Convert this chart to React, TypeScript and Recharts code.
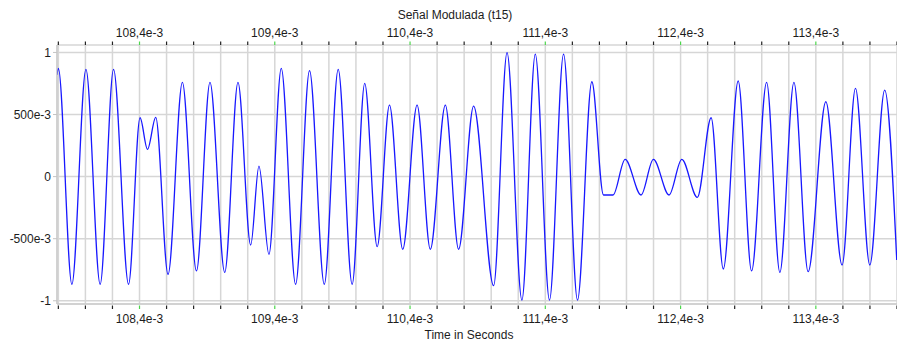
import React from 'react';
import { LineChart, Line, XAxis, YAxis, CartesianGrid } from 'recharts';

// Sample times in ms (ticks print them as e-3 seconds) and signal level at each
// crest / trough of the carrier.
const timeMs = [
  107.79, 107.8, 107.9, 108.004, 108.109, 108.208, 108.319, 108.404, 108.459, 108.52,
  108.611, 108.717, 108.821, 108.921, 109.03, 109.128, 109.222, 109.283, 109.357, 109.448,
  109.554, 109.657, 109.766, 109.869, 109.972, 110.065, 110.157, 110.248, 110.346, 110.452,
  110.55, 110.661, 110.759, 110.87, 111.018, 111.117, 111.227, 111.326, 111.431, 111.535,
  111.638, 111.744, 111.83, 111.901, 111.99, 112.108, 112.199, 112.315, 112.409, 112.524,
  112.626, 112.716, 112.826, 112.925, 113.036, 113.134, 113.238, 113.343, 113.474, 113.594,
  113.693, 113.799, 113.909, 113.998,
];
const amplitude = [
  0.82, 0.872, -0.867, 0.864, -0.867, 0.864, -0.867, 0.474, 0.22, 0.477,
  -0.787, 0.759, -0.76, 0.759, -0.771, 0.759, -0.551, 0.085, -0.626, 0.872,
  -0.867, 0.853, -0.867, 0.864, -0.867, 0.751, -0.564, 0.576, -0.585, 0.576,
  -0.585, 0.576, -0.585, 0.568, -0.878, 0.998, -0.994, 0.987, -0.994, 0.987,
  -0.994, 0.764, -0.148, -0.148, 0.139, -0.148, 0.139, -0.148, 0.139, -0.167,
  0.474, -0.744, 0.77, -0.76, 0.759, -0.771, 0.759, -0.766, 0.603, -0.712,
  0.711, -0.712, 0.697, -0.671,
];

const gridTicks = [
  107.8, 108.0, 108.2, 108.4, 108.6, 108.8, 109.0, 109.2, 109.4, 109.6, 109.8,
  110.0, 110.2, 110.4, 110.6, 110.8, 111.0, 111.2, 111.4, 111.6, 111.8, 112.0,
  112.2, 112.4, 112.6, 112.8, 113.0, 113.2, 113.4, 113.6, 113.8, 114.0,
];
const labelTicks = [108.4, 109.4, 110.4, 111.4, 112.4, 113.4];
const levelTicks = [-1, -0.5, 0, 0.5, 1];

const data = timeMs.map((t, i) => ({ t, v: amplitude[i] }));

const textColor = '#1c1c1c';
const gridColor = '#d6d6d6';
const font = '"Liberation Sans", Arial, sans-serif';

const isLabelled = (v: number) => labelTicks.some((m) => Math.abs(m - v) < 1e-6);
const fmtTime = (v: number) => v.toFixed(1).replace('.', ',') + 'e-3';
const fmtLevel = (v: number) =>
  v === 0 ? '0' : Math.abs(v) === 1 ? String(v) : Math.round(v * 1000) + 'e-3';

const TimeTick = (props: any) => {
  const { x, y, payload, side } = props;
  const major = isLabelled(payload.value);
  const top = side === 'top';
  return (
    <g>
      <line
        x1={x}
        x2={x}
        y1={top ? y - 3.5 : y + 1.5}
        y2={top ? y : y + 5}
        stroke={major ? '#4cd64c' : '#222'}
        strokeWidth={1.2}
      />
      {major && (
        <text
          x={x}
          y={top ? y - 11.7 : y + 15}
          textAnchor="middle"
          dominantBaseline="central"
          fontSize={12}
          fontFamily={font}
          fill={textColor}
        >
          {fmtTime(payload.value)}
        </text>
      )}
    </g>
  );
};

export default function App() {
  return (
    <div
      style={{
        position: 'absolute',
        left: 0,
        top: 0,
        width: 897,
        height: 342,
        background: '#fff',
        fontFamily: font,
        color: textColor,
      }}
    >
      <div
        style={{
          position: 'absolute',
          left: 455,
          top: 15,
          transform: 'translate(-50%, -50%)',
          fontSize: 12,
          lineHeight: '14px',
          whiteSpace: 'nowrap',
        }}
      >
        Señal Modulada (t15)
      </div>
      <LineChart width={897} height={342} data={data} margin={{ top: 0, right: 0, bottom: 0, left: 0 }}>
        <CartesianGrid stroke={gridColor} strokeWidth={1.5} />
        <XAxis
          dataKey="t"
          type="number"
          domain={[107.79, 114.0]}
          ticks={gridTicks}
          interval={0}
          height={38}
          tickSize={0}
          tickMargin={0}
          tickLine={false}
          axisLine={{ stroke: '#c4c4c4' }}
          tick={<TimeTick side="bottom" />}
          allowDataOverflow
        />
        <XAxis
          xAxisId="top"
          orientation="top"
          dataKey="t"
          type="number"
          domain={[107.79, 114.0]}
          ticks={gridTicks}
          interval={0}
          height={45}
          tickSize={0}
          tickMargin={0}
          tickLine={false}
          axisLine={false}
          tick={<TimeTick side="top" />}
          allowDataOverflow
        />
        <YAxis
          type="number"
          domain={[-1.026, 1.06]}
          ticks={levelTicks}
          interval={0}
          width={57}
          tickSize={4}
          tickMargin={2}
          tickLine={{ stroke: '#c4c4c4' }}
          axisLine={{ stroke: '#c4c4c4' }}
          tickFormatter={fmtLevel}
          tick={{ fill: textColor, fontSize: 12, fontFamily: font }}
          allowDataOverflow
        />
        <Line
          type="monotone"
          dataKey="v"
          stroke="#1818ff"
          strokeWidth={1.3}
          dot={false}
          isAnimationActive={false}
        />
      </LineChart>
      <div
        style={{
          position: 'absolute',
          left: 469,
          top: 335,
          transform: 'translate(-50%, -50%)',
          fontSize: 12,
          lineHeight: '14px',
          whiteSpace: 'nowrap',
        }}
      >
        Time in Seconds
      </div>
    </div>
  );
}
